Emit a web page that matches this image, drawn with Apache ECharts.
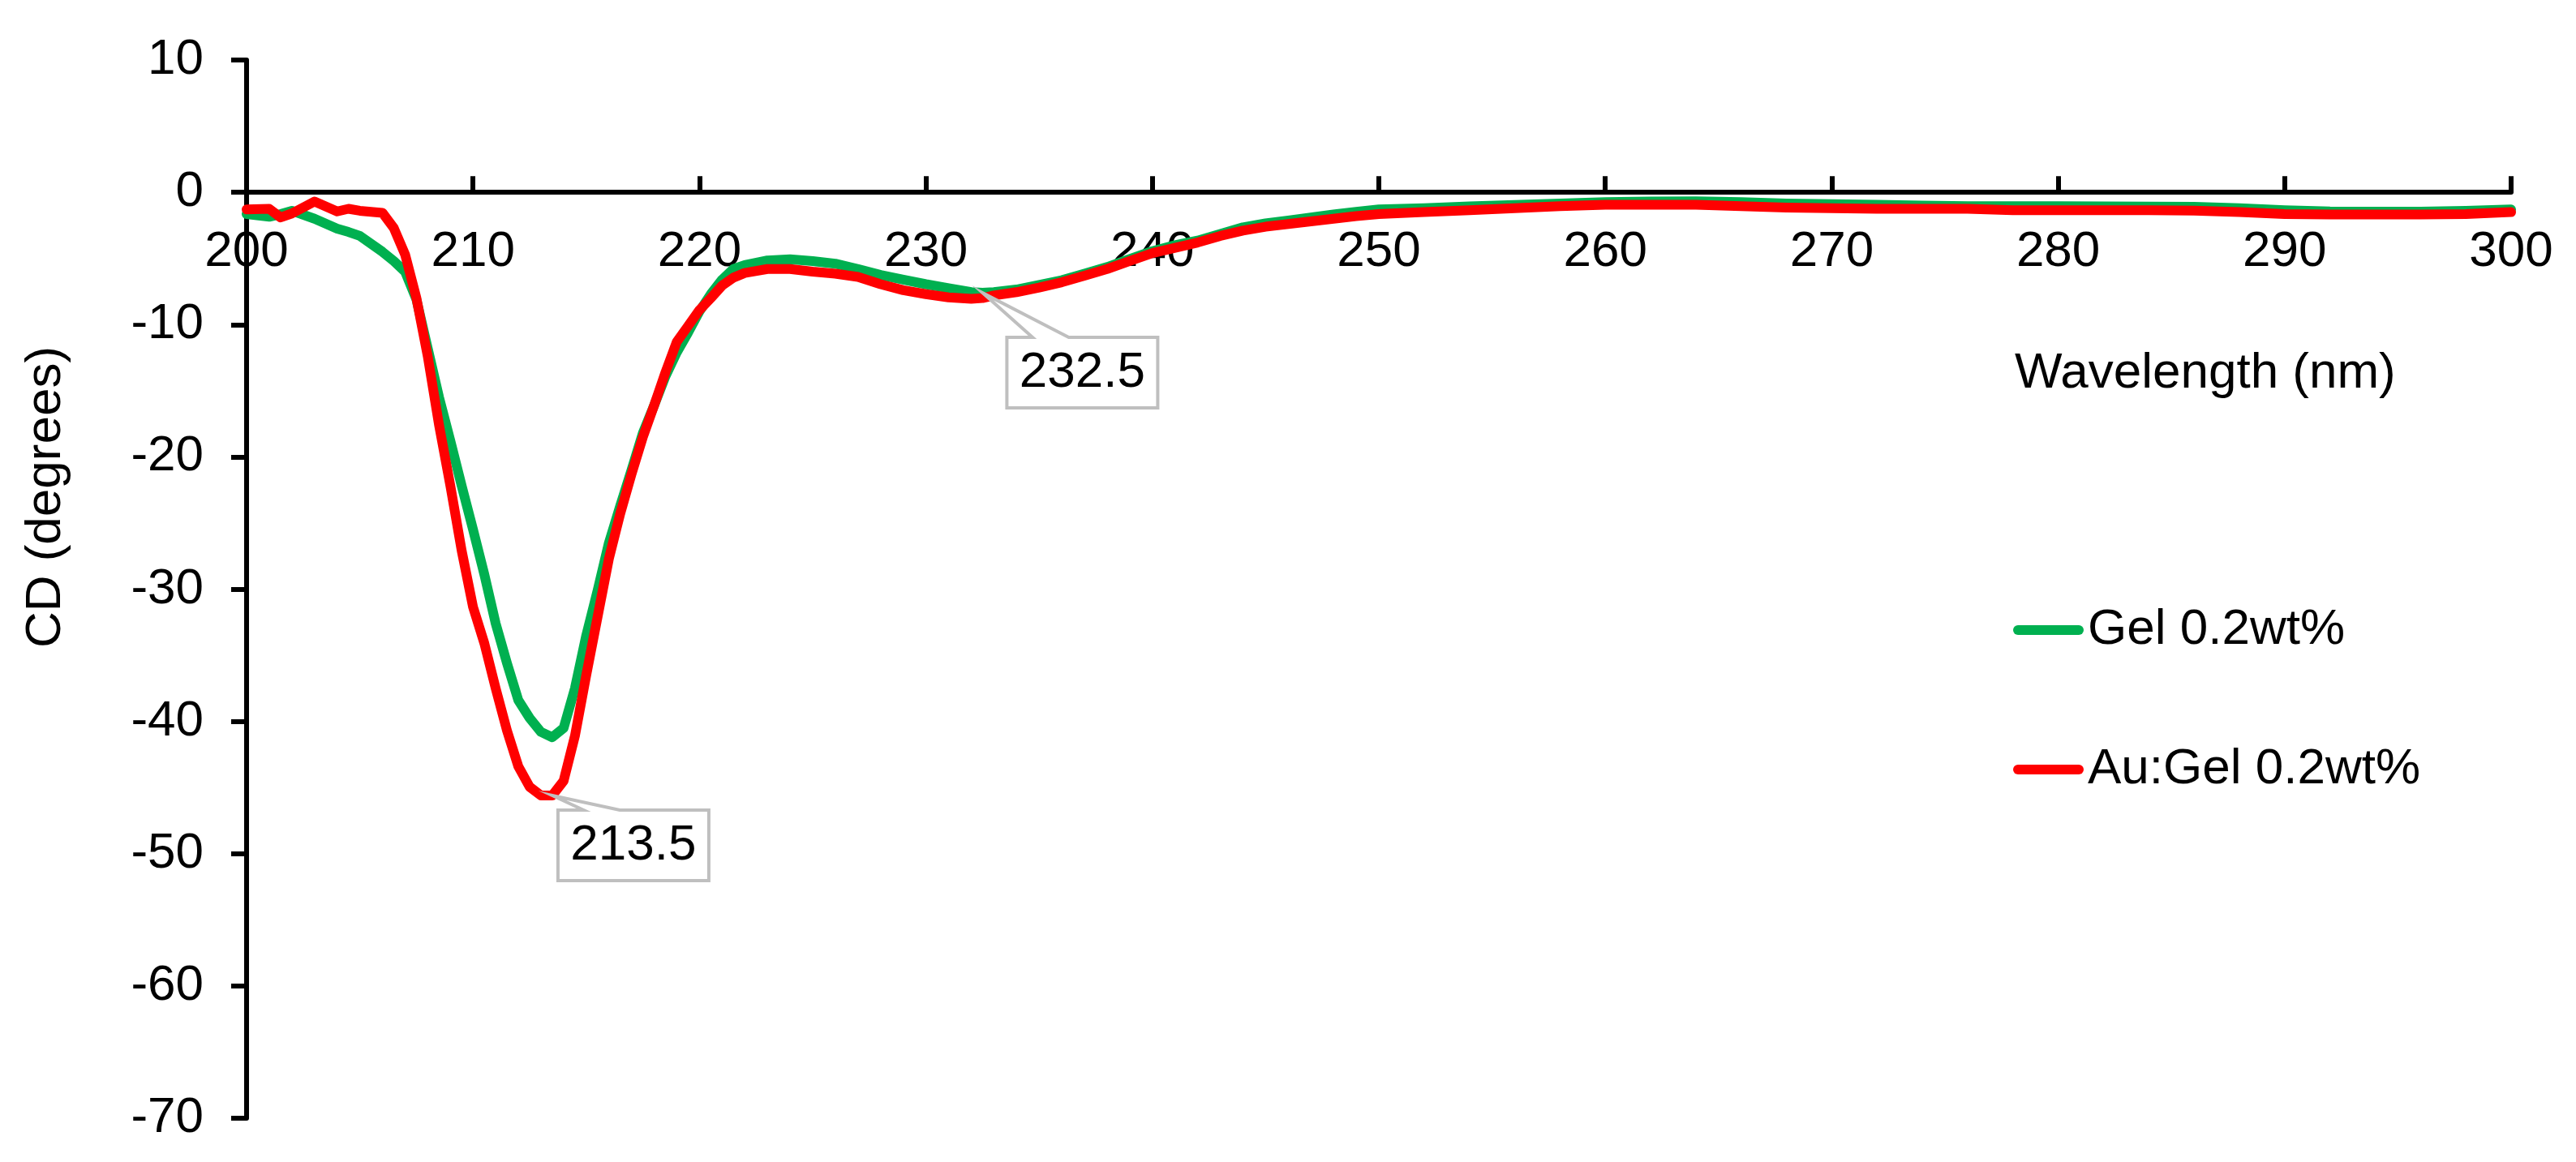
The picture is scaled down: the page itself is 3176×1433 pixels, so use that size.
<!DOCTYPE html>
<html>
<head>
<meta charset="utf-8">
<script src="https://cdn.jsdelivr.net/npm/echarts@6/dist/echarts.min.js"></script>
<style>html,body{margin:0;padding:0;background:#fff;}#main{width:3176px;height:1433px;}</style>
</head>
<body>
<div id="main"></div>
<script>
// ---- data ----
const wavelength = [200, 201, 201.5, 202, 203, 204, 204.5, 205, 206, 206.5, 207, 207.5, 208, 208.5, 209, 209.5, 210, 210.5, 211, 211.5, 212, 212.5, 213, 213.5, 214, 214.5, 215, 215.5, 216, 216.5, 217, 217.5, 218, 218.5, 219, 219.5, 220, 220.5, 221, 221.5, 222, 223, 224, 225, 226, 227, 228, 229, 230, 231, 232, 232.5, 233, 234, 235, 236, 237, 238, 239, 240, 241, 242, 243, 244, 245, 246, 247, 248, 249, 250, 252, 254, 256, 258, 260, 262, 264, 266, 268, 270, 272, 274, 276, 278, 280, 282, 284, 286, 288, 290, 292, 294, 296, 298, 300];

const gel = [-1.65, -1.85, -1.65, -1.4, -2.0, -2.75, -3.0, -3.3, -4.5, -5.2, -6.0, -8.1, -11.8, -15.5, -18.8, -22.2, -25.5, -28.9, -32.6, -35.6, -38.4, -39.75, -40.8, -41.2, -40.5, -37.5, -33.5, -30.1, -26.5, -23.7, -21.0, -18.2, -16.1, -13.9, -12.1, -10.6, -9.0, -7.7, -6.6, -5.8, -5.5, -5.15, -5.07, -5.2, -5.4, -5.8, -6.25, -6.6, -6.95, -7.25, -7.55, -7.6, -7.55, -7.35, -7.0, -6.65, -6.15, -5.65, -5.05, -4.45, -4.0, -3.65, -3.15, -2.65, -2.35, -2.13, -1.9, -1.68, -1.48, -1.3, -1.2, -1.07, -0.95, -0.85, -0.75, -0.7, -0.68, -0.75, -0.85, -0.9, -0.95, -1.0, -1.05, -1.05, -1.05, -1.07, -1.08, -1.1, -1.2, -1.35, -1.45, -1.47, -1.47, -1.4, -1.3];

const auGel = [-1.3, -1.25, -1.9, -1.6, -0.7, -1.45, -1.25, -1.4, -1.55, -2.7, -4.7, -8.0, -12.4, -17.6, -22.2, -27.1, -31.35, -34.1, -37.5, -40.7, -43.4, -44.95, -45.6, -45.6, -44.5, -41.1, -36.5, -32.1, -27.7, -24.3, -21.3, -18.5, -16.1, -13.6, -11.3, -10.1, -8.9, -8.0, -7.05, -6.45, -6.1, -5.8, -5.8, -6.0, -6.15, -6.4, -6.95, -7.4, -7.7, -7.95, -8.05, -8.0, -7.8, -7.55, -7.2, -6.8, -6.3, -5.8, -5.2, -4.6, -4.2, -3.8, -3.3, -2.9, -2.6, -2.4, -2.2, -2.0, -1.8, -1.65, -1.5, -1.35, -1.2, -1.05, -0.95, -0.95, -0.95, -1.05, -1.15, -1.2, -1.25, -1.25, -1.25, -1.35, -1.35, -1.35, -1.35, -1.38, -1.5, -1.65, -1.68, -1.68, -1.68, -1.65, -1.5];

const seriesNames = ['Gel 0.2wt%', 'Au:Gel 0.2wt%'];
const seriesColors = ['#00B050', '#FF0000'];
const xAxisTitle = 'Wavelength (nm)';
const yAxisTitle = 'CD (degrees)';
const xRange = [200, 300, 10];
const yRange = [-70, 10, 10];
// callouts: wavelength, series index they point at
const calloutWl = [213.5, 232.5];
const calloutSeries = [1, 0];

// ---- chart ----
const FONT = '"Liberation Sans", Arial, sans-serif';
const seriesValues = [gel, auGel];
const pairs = v => wavelength.map((x, i) => [x, v[i]]);

const chart = echarts.init(document.getElementById('main'), null, {renderer: 'canvas'});

const axisLineStyle = {color: '#000', width: 6};
const labelStyle = {fontSize: 62, color: '#000', fontFamily: FONT};
const LINE_W = 12;

const baseGraphics = [
  {id: 'xname', type: 'text', x: 2484, y: 461, z: 100,
   style: {text: xAxisTitle, font: '62px ' + FONT, fill: '#000', align: 'left', verticalAlign: 'middle'}},
  {id: 'yname', type: 'text', x: 57, y: 613, rotation: Math.PI / 2, z: 100,
   style: {text: yAxisTitle, font: '62px ' + FONT, fill: '#000', align: 'center', verticalAlign: 'middle'}}
];

chart.setOption({
  animation: false,
  backgroundColor: '#fff',
  grid: {left: 304, right: 80, top: 74, bottom: 54, containLabel: false, outerBoundsMode: 'none'},
  xAxis: {
    type: 'value', min: xRange[0], max: xRange[1], interval: xRange[2],
    position: 'bottom', offset: 0,
    axisLine: {show: true, onZero: false, lineStyle: axisLineStyle},
    axisTick: {show: true, inside: true, length: 20, lineStyle: axisLineStyle},
    axisLabel: Object.assign({margin: 43}, labelStyle),
    splitLine: {show: false}
  },
  yAxis: {
    type: 'value', min: yRange[0], max: yRange[1], interval: yRange[2],
    axisLine: {show: true, onZero: false, lineStyle: axisLineStyle},
    axisTick: {show: true, inside: false, length: 19, lineStyle: axisLineStyle},
    axisLabel: Object.assign({margin: 53}, labelStyle),
    splitLine: {show: false}
  },
  legend: {
    orient: 'vertical', left: 2477, top: 741,
    itemWidth: 87, itemHeight: 12, itemGap: 110,
    icon: 'path://M6,0 L81,0 A6,6 0 0 1 81,12 L6,12 A6,6 0 0 1 6,0 Z',
    textStyle: {fontSize: 62, color: '#000', fontFamily: FONT, lineHeight: 62},
    data: seriesNames
  },
  series: seriesNames.map((name, k) => ({
    name: name, type: 'line', data: pairs(seriesValues[k]),
    showSymbol: false, symbol: 'none', smooth: false,
    color: seriesColors[k],
    itemStyle: {color: seriesColors[k]},
    lineStyle: {color: seriesColors[k], width: LINE_W, cap: 'round', join: 'round'},
    z: 2 + k
  })),
  graphic: baseGraphics
});

// move the x axis (line, ticks and labels) up to y = 0 using the chart's own scale
const zeroPx = chart.convertToPixel({yAxisIndex: 0}, 0);
const bottomPx = chart.convertToPixel({yAxisIndex: 0}, yRange[0]);
chart.setOption({xAxis: {offset: zeroPx - bottomPx}});

// callout boxes anchored to data points via the chart's own scales
const boxW = 186, boxH = 87;
const boxOffset = [[7, 18], [30, 55]];
const calloutGraphics = [];
calloutWl.forEach((wl, j) => {
  const s = calloutSeries[j];
  const idx = wavelength.indexOf(wl);
  const tip = chart.convertToPixel({gridIndex: 0}, [wl, seriesValues[s][idx]]);
  const L = tip[0] + boxOffset[j][0], T = tip[1] + boxOffset[j][1];
  const R = L + boxW, B = T + boxH;
  calloutGraphics.push({
    id: 'cbox' + j, type: 'polygon', z: 100,
    shape: {points: [[L, T], [L + 0.17 * boxW, T], [tip[0], tip[1]], [L + 0.41 * boxW, T], [R, T], [R, B], [L, B]]},
    style: {fill: '#fff', stroke: '#BFBFBF', lineWidth: 4, lineJoin: 'miter'}
  });
  calloutGraphics.push({
    id: 'ctext' + j, type: 'text', z: 101, x: (L + R) / 2, y: (T + B) / 2,
    style: {text: String(wl), font: '62px ' + FONT, fill: '#000', align: 'center', verticalAlign: 'middle'}
  });
});
chart.setOption({graphic: baseGraphics.concat(calloutGraphics)});
</script>
</body>
</html>
